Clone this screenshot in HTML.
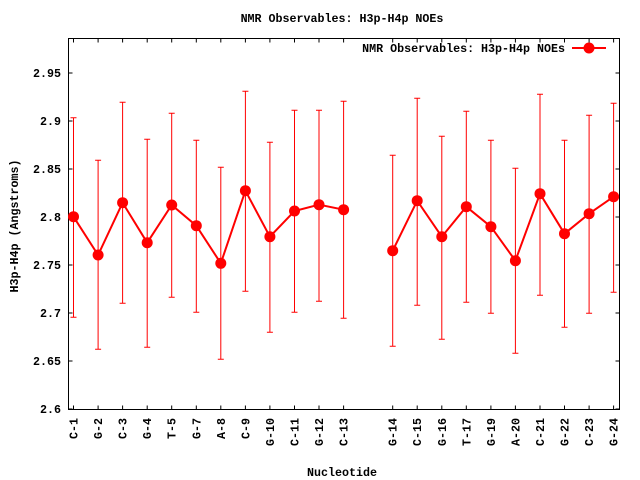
<!DOCTYPE html>
<html><head><meta charset="utf-8"><style>
html,body{margin:0;padding:0;background:#fff;}
svg{display:block;}
text{font-family:"Liberation Mono",monospace;font-weight:bold;font-size:11.67px;fill:#000;}
</style></head><body>
<svg width="640" height="480" viewBox="0 0 640 480" xmlns="http://www.w3.org/2000/svg">
<rect x="0" y="0" width="640" height="480" fill="#fff"/>
<text x="342" y="22" text-anchor="middle">NMR Observables: H3p-H4p NOEs</text>
<text x="342" y="476" text-anchor="middle">Nucleotide</text>
<text transform="translate(18,226) rotate(-90)" text-anchor="middle">H3p-H4p (Angstroms)</text>
<g text-anchor="end">
<text x="61" y="77">2.95</text>
<text x="61" y="125">2.9</text>
<text x="61" y="173">2.85</text>
<text x="61" y="221">2.8</text>
<text x="61" y="269">2.75</text>
<text x="61" y="317">2.7</text>
<text x="61" y="365">2.65</text>
<text x="61" y="413">2.6</text>
</g>
<g stroke="#000" stroke-width="1">
<path d="M68.5,73H72.5M68.5,121H72.5M68.5,169H72.5M68.5,217H72.5M68.5,265H72.5M68.5,313H72.5M68.5,361H72.5M68.5,409H72.5"/>
<path d="M619.5,73H615.5M619.5,121H615.5M619.5,169H615.5M619.5,217H615.5M619.5,265H615.5M619.5,313H615.5M619.5,361H615.5M619.5,409H615.5"/>
<path d="M73.5,409.5V405.5M98.1,409.5V405.5M122.6,409.5V405.5M147.2,409.5V405.5M171.7,409.5V405.5M196.3,409.5V405.5M220.8,409.5V405.5M245.4,409.5V405.5M269.9,409.5V405.5M294.5,409.5V405.5M319,409.5V405.5M343.6,409.5V405.5M392.7,409.5V405.5M417.2,409.5V405.5M441.8,409.5V405.5M466.3,409.5V405.5M490.9,409.5V405.5M515.4,409.5V405.5M540,409.5V405.5M564.5,409.5V405.5M589.1,409.5V405.5M613.6,409.5V405.5"/>
<path d="M73.5,38.5V42.5M98.1,38.5V42.5M122.6,38.5V42.5M147.2,38.5V42.5M171.7,38.5V42.5M196.3,38.5V42.5M220.8,38.5V42.5M245.4,38.5V42.5M269.9,38.5V42.5M294.5,38.5V42.5M319,38.5V42.5M343.6,38.5V42.5M392.7,38.5V42.5M417.2,38.5V42.5M441.8,38.5V42.5M466.3,38.5V42.5M490.9,38.5V42.5M515.4,38.5V42.5M540,38.5V42.5M564.5,38.5V42.5M589.1,38.5V42.5M613.6,38.5V42.5"/>
<rect x="68.5" y="38.5" width="551" height="371" fill="none"/>
</g>
<g text-anchor="end">
<text transform="translate(77.5,418) rotate(-90)">C-1</text>
<text transform="translate(102.1,418) rotate(-90)">G-2</text>
<text transform="translate(126.6,418) rotate(-90)">C-3</text>
<text transform="translate(151.2,418) rotate(-90)">G-4</text>
<text transform="translate(175.7,418) rotate(-90)">T-5</text>
<text transform="translate(200.3,418) rotate(-90)">G-7</text>
<text transform="translate(224.8,418) rotate(-90)">A-8</text>
<text transform="translate(249.4,418) rotate(-90)">C-9</text>
<text transform="translate(273.9,418) rotate(-90)">G-10</text>
<text transform="translate(298.5,418) rotate(-90)">C-11</text>
<text transform="translate(323,418) rotate(-90)">G-12</text>
<text transform="translate(347.6,418) rotate(-90)">C-13</text>
<text transform="translate(396.7,418) rotate(-90)">G-14</text>
<text transform="translate(421.2,418) rotate(-90)">C-15</text>
<text transform="translate(445.8,418) rotate(-90)">G-16</text>
<text transform="translate(470.3,418) rotate(-90)">T-17</text>
<text transform="translate(494.9,418) rotate(-90)">G-19</text>
<text transform="translate(519.4,418) rotate(-90)">A-20</text>
<text transform="translate(544,418) rotate(-90)">C-21</text>
<text transform="translate(568.5,418) rotate(-90)">G-22</text>
<text transform="translate(593.1,418) rotate(-90)">C-23</text>
<text transform="translate(617.6,418) rotate(-90)">G-24</text>
</g>
<g stroke="#f00" stroke-width="1" fill="none">
<path d="M73.5,117.7V317.3M70.5,117.7H76.5M70.5,317.3H76.5"/>
<path d="M98.1,160.3V349.3M95.1,160.3H101.1M95.1,349.3H101.1"/>
<path d="M122.6,102.3V303.3M119.6,102.3H125.6M119.6,303.3H125.6"/>
<path d="M147.2,139.3V347.3M144.2,139.3H150.2M144.2,347.3H150.2"/>
<path d="M171.7,113.3V297.3M168.7,113.3H174.7M168.7,297.3H174.7"/>
<path d="M196.3,140.3V312.3M193.3,140.3H199.3M193.3,312.3H199.3"/>
<path d="M220.8,167.3V359.3M217.8,167.3H223.8M217.8,359.3H223.8"/>
<path d="M245.4,91.3V291.3M242.4,91.3H248.4M242.4,291.3H248.4"/>
<path d="M269.9,142.3V332.3M266.9,142.3H272.9M266.9,332.3H272.9"/>
<path d="M294.5,110.3V312.3M291.5,110.3H297.5M291.5,312.3H297.5"/>
<path d="M319,110.3V301.3M316,110.3H322M316,301.3H322"/>
<path d="M343.6,101.3V318.3M340.6,101.3H346.6M340.6,318.3H346.6"/>
<path d="M392.7,155.3V346.3M389.7,155.3H395.7M389.7,346.3H395.7"/>
<path d="M417.2,98.3V305.3M414.2,98.3H420.2M414.2,305.3H420.2"/>
<path d="M441.8,136.3V339.3M438.8,136.3H444.8M438.8,339.3H444.8"/>
<path d="M466.3,111.3V302.3M463.3,111.3H469.3M463.3,302.3H469.3"/>
<path d="M490.9,140.3V313.3M487.9,140.3H493.9M487.9,313.3H493.9"/>
<path d="M515.4,168.3V353.3M512.4,168.3H518.4M512.4,353.3H518.4"/>
<path d="M540,94.3V295.3M537,94.3H543M537,295.3H543"/>
<path d="M564.5,140.3V327.3M561.5,140.3H567.5M561.5,327.3H567.5"/>
<path d="M589.1,115.3V313.3M586.1,115.3H592.1M586.1,313.3H592.1"/>
<path d="M613.6,103.3V292.3M610.6,103.3H616.6M610.6,292.3H616.6"/>
</g>
<g stroke="#f00" stroke-width="2" fill="none">
<polyline points="73.5,216.7 98.1,255 122.6,202.7 147.2,242.7 171.7,205 196.3,225.7 220.8,263.3 245.4,190.7 269.9,236.7 294.5,211 319,204.7 343.6,209.7"/>
<polyline points="392.7,250.7 417.2,200.7 441.8,236.7 466.3,206.7 490.9,226.7 515.4,260.7 540,193.7 564.5,233.7 589.1,213.7 613.6,196.7"/>
<path d="M572,48H606"/>
</g>
<g fill="#f00">
<circle cx="73.5" cy="216.7" r="5.5"/><circle cx="98.1" cy="255" r="5.5"/><circle cx="122.6" cy="202.7" r="5.5"/><circle cx="147.2" cy="242.7" r="5.5"/><circle cx="171.7" cy="205" r="5.5"/><circle cx="196.3" cy="225.7" r="5.5"/><circle cx="220.8" cy="263.3" r="5.5"/><circle cx="245.4" cy="190.7" r="5.5"/><circle cx="269.9" cy="236.7" r="5.5"/><circle cx="294.5" cy="211" r="5.5"/><circle cx="319" cy="204.7" r="5.5"/><circle cx="343.6" cy="209.7" r="5.5"/>
<circle cx="392.7" cy="250.7" r="5.5"/><circle cx="417.2" cy="200.7" r="5.5"/><circle cx="441.8" cy="236.7" r="5.5"/><circle cx="466.3" cy="206.7" r="5.5"/><circle cx="490.9" cy="226.7" r="5.5"/><circle cx="515.4" cy="260.7" r="5.5"/><circle cx="540" cy="193.7" r="5.5"/><circle cx="564.5" cy="233.7" r="5.5"/><circle cx="589.1" cy="213.7" r="5.5"/><circle cx="613.6" cy="196.7" r="5.5"/>
<circle cx="589" cy="48" r="5.5"/>
</g>
<text x="565" y="52" text-anchor="end">NMR Observables: H3p-H4p NOEs</text>
</svg>
</body></html>
